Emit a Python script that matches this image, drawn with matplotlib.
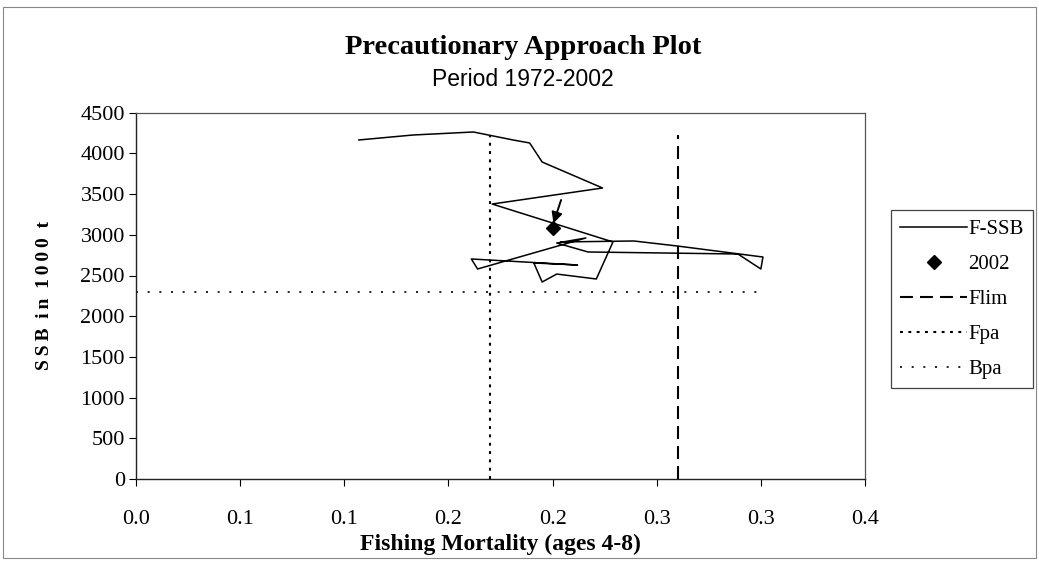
"""Precautionary approach plot: fishing mortality against spawning stock biomass."""
import matplotlib.pyplot as plt
from matplotlib.patches import Rectangle

# F-SSB trajectory (F ages 4-8, SSB in 1000 t)
path_f = [0.107, 0.133, 0.162, 0.181, 0.189, 0.195, 0.224, 0.171, 0.229, 0.221,
          0.202, 0.195, 0.191, 0.212, 0.161, 0.164, 0.216, 0.202, 0.217, 0.289,
          0.300, 0.301, 0.260, 0.239, 0.204]
path_ssb = [4165, 4226, 4263, 4165, 4128, 3894, 3575, 3378, 2912, 2457,
            2518, 2420, 2654, 2629, 2703, 2580, 2961, 2899, 2789, 2764,
            2580, 2727, 2862, 2924, 2912]

# last year, marked separately
f_2002 = 0.200
ssb_2002 = 3080

# reference points
flim = 0.26
fpa = 0.17
bpa = 2300
ref_line_top = 4230
bpa_f_range = [0.0, 0.30]

x_ticks = [0.0, 0.05, 0.10, 0.15, 0.20, 0.25, 0.30, 0.35]
x_tick_labels = ["0.0", "0.1", "0.1", "0.2", "0.2", "0.3", "0.3", "0.4"]
y_ticks = [0, 500, 1000, 1500, 2000, 2500, 3000, 3500, 4000, 4500]

SERIF = "Liberation Serif"
SANS = "Liberation Sans"


def main():
    W, H = 1039, 563
    fig = plt.figure(figsize=(W / 100, H / 100), dpi=100)
    ax = fig.add_axes([136 / W, 1 - 479 / H, 729 / W, 366.3 / H])

    ax.plot(path_f, path_ssb, color="black", lw=1.1, label="F-SSB", zorder=4)
    ax.plot([f_2002], [ssb_2002], marker="D", ms=7, color="black", ls="none",
            label="2002", zorder=5)
    ax.annotate("", xy=(f_2002, ssb_2002 + 30), xytext=(0.2045, 3460),
                arrowprops=dict(arrowstyle="-|>", color="black", lw=1.4,
                                mutation_scale=16), zorder=5)

    ax.plot([flim, flim], [0, ref_line_top], color="black", lw=1.5,
            ls=(0, (6.2, 3.4)), label="Flim")
    ax.plot([fpa, fpa], [0, ref_line_top], color="black", lw=1.5,
            ls=(0, (1.4, 2.6)), label="Fpa")
    ax.plot(bpa_f_range, [bpa, bpa], color="black", lw=1.2,
            ls=(0, (1.2, 5.8)), label="Bpa")

    ax.set_xlim(0, 0.35)
    ax.set_ylim(0, 4500)
    ax.set_xticks(x_ticks)
    ax.set_xticklabels(x_tick_labels)
    ax.set_yticks(y_ticks)
    for lab in ax.get_xticklabels() + ax.get_yticklabels():
        lab.set_fontfamily(SERIF)
        lab.set_fontsize(16)
    ax.tick_params(axis="x", direction="out", length=5, width=0.8, pad=17)
    ax.tick_params(axis="y", direction="out", length=5, width=0.8, pad=3)

    for side in ("top", "right"):
        ax.spines[side].set_color("#555555")
        ax.spines[side].set_linewidth(0.9)
    for side in ("left", "bottom"):
        ax.spines[side].set_color("#222222")
        ax.spines[side].set_linewidth(1.0)

    ax.set_xlabel("Fishing Mortality (ages 4-8)", fontfamily=SERIF,
                  fontsize=17, fontweight="bold", labelpad=4)
    # letters spaced out with thin spaces
    ylab = "\u2009".join("SSB") + "  " + "\u2009".join("in") + "  " \
        + "\u2009".join("1000") + "  t"
    ax.set_ylabel(ylab, family=[SERIF, "DejaVu Serif"], fontsize=14,
                  fontweight="bold", labelpad=20)

    fig.text(523 / W, 1 - 47 / H, "Precautionary Approach Plot",
             fontfamily=SERIF, fontsize=20.5, fontweight="bold",
             ha="center", va="center")
    fig.text(523 / W, 1 - 79 / H, "Period 1972-2002", fontfamily=SANS,
             fontsize=16.5, ha="center", va="center")

    leg = fig.legend(loc="upper left", bbox_to_anchor=(891 / W, 1 - 210 / H),
                     prop={"family": SERIF, "size": 15}, frameon=True,
                     fancybox=False, edgecolor="#444444", framealpha=1,
                     handlelength=3.2, handletextpad=0.05, labelspacing=0.74,
                     borderpad=0.45, borderaxespad=0)
    leg.get_frame().set_linewidth(0.9)

    # outer chart border
    fig.patches.append(Rectangle((3 / W, 5 / H), 1033 / W, 551 / H,
                                 transform=fig.transFigure, fill=False,
                                 edgecolor="#888888", lw=0.8))

    fig.savefig("out.png", dpi=100, facecolor="white")


if __name__ == "__main__":
    main()
